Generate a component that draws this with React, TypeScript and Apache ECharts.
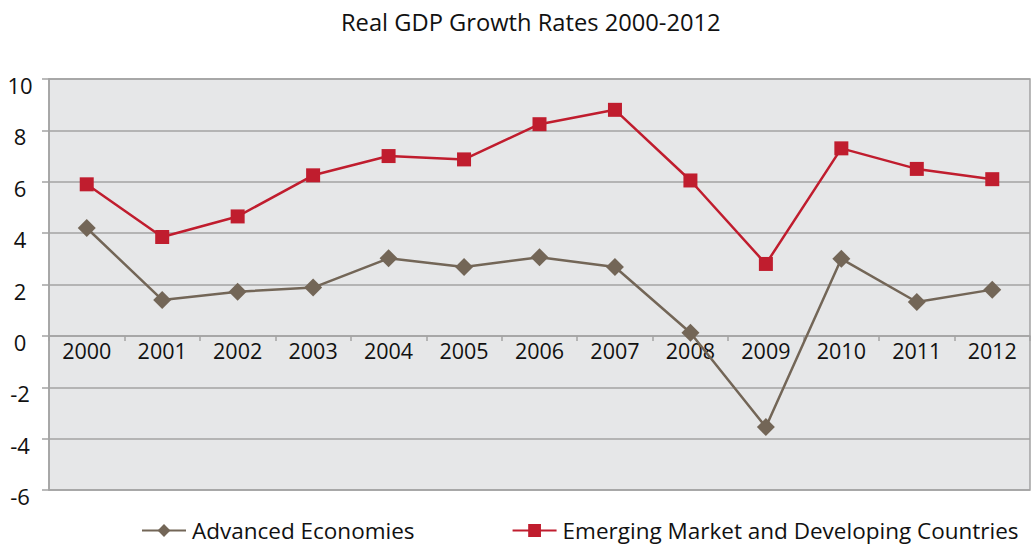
import React, { useEffect, useRef } from "react";
import * as echarts from "echarts";

const years = ["2000", "2001", "2002", "2003", "2004", "2005", "2006", "2007", "2008", "2009", "2010", "2011", "2012"];
const advanced = [4.2, 1.4, 1.72, 1.88, 3.02, 2.68, 3.06, 2.68, 0.12, -3.55, 3.0, 1.32, 1.8];
const emerging = [5.9, 3.85, 4.65, 6.25, 7.0, 6.87, 8.24, 8.8, 6.05, 2.8, 7.3, 6.5, 6.1];
const titleText = "Real GDP Growth Rates 2000-2012";
const seriesNames = ["Advanced Economies", "Emerging Market and Developing Countries"];
const yMin = -6;
const yMax = 10;
const yStep = 2;

const FONT = "'Open Sans', 'Noto Sans', sans-serif";

const GRID_TOP = 79;
const GRID_BOTTOM = 57;
const CHART_H = 547;

export default function App() {
  const ref = useRef<HTMLDivElement>(null);
  useEffect(() => {
    if (!ref.current) return;
    const chart = echarts.init(ref.current, null, { renderer: "svg" });
    const plotH = CHART_H - GRID_TOP - GRID_BOTTOM;
    const zeroOffset = -((0 - yMin) / (yMax - yMin)) * plotH;
    chart.setOption({
      animation: false,
      backgroundColor: "#ffffff",
      title: {
        text: titleText,
        left: 336,
        top: 5,
        textStyle: { fontFamily: FONT, fontSize: 23.7, fontWeight: "normal", color: "#111" },
      },
      legend: {
        bottom: 0,
        left: 136,
        itemWidth: 44,
        itemHeight: 16,
        itemGap: 97,
        textStyle: { fontFamily: FONT, fontSize: 22.5, color: "#111", padding: [0, 0, 0, 1] },
        data: seriesNames,
      },
      grid: {
        left: 49,
        right: 1,
        top: GRID_TOP,
        bottom: GRID_BOTTOM,
        show: true,
        backgroundColor: "#e6e7e8",
        borderColor: "#a3a3a3",
        borderWidth: 1.5,
      },
      xAxis: {
        type: "category",
        data: years,
        boundaryGap: true,
        position: "bottom",
        offset: zeroOffset,
        axisLine: { onZero: false, lineStyle: { color: "#a3a3a3", width: 1.5 } },
        axisTick: { show: true, length: 5, lineStyle: { color: "#a3a3a3", width: 1.5 } },
        axisLabel: { fontFamily: FONT, fontSize: 21.5, color: "#111", margin: 4 },
        splitLine: { show: false },
      },
      yAxis: {
        type: "value",
        min: yMin,
        max: yMax,
        interval: yStep,
        axisLine: { show: true, lineStyle: { color: "#a3a3a3", width: 1.5 } },
        axisTick: { show: true, length: 7, lineStyle: { color: "#a3a3a3", width: 1.5 } },
        axisLabel: {
          fontFamily: FONT,
          fontSize: 22,
          color: "#111",
          align: "center",
          verticalAlign: "top",
          lineHeight: 12,
          margin: 29,
        },
        splitLine: { show: true, lineStyle: { color: "#a3a3a3", width: 1.5 } },
      },
      series: [
        {
          name: seriesNames[0],
          type: "line",
          data: advanced,
          symbol: "diamond",
          symbolSize: 18,
          itemStyle: { color: "#736657" },
          lineStyle: { color: "#736657", width: 2.5 },
        },
        {
          name: seriesNames[1],
          type: "line",
          data: emerging,
          symbol: "rect",
          symbolSize: 14,
          itemStyle: { color: "#c01d2e" },
          lineStyle: { color: "#c01d2e", width: 2.5 },
        },
      ],
    });
    return () => chart.dispose();
  }, []);
  return <div ref={ref} style={{ position: "fixed", left: 0, top: 0, width: 1031, height: 547 }} />;
}
